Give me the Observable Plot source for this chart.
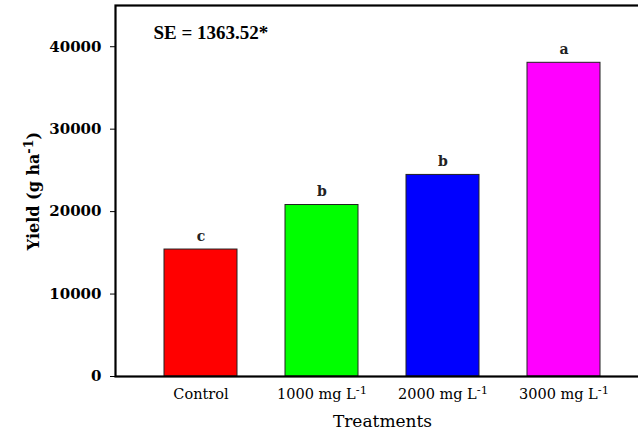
<!DOCTYPE html>
<html>
<head>
<meta charset="utf-8">
<script src="https://cdn.jsdelivr.net/npm/d3@7"></script>
<script src="https://cdn.jsdelivr.net/npm/@observablehq/plot@0.6"></script>
<style>
  html, body { margin: 0; padding: 0; background: #fff; overflow: hidden; }
  #chart svg { overflow: hidden; }
</style>
</head>
<body>
<div id="chart"></div>
<script>
const treatments = ["Control", "1000 mg L^-1^", "2000 mg L^-1^", "3000 mg L^-1^"];
const yieldValues = [15400, 20800, 24450, 38050];
const letters = ["c", "b", "b", "a"];
const barColors = ["#ff0000", "#00ff00", "#0000ff", "#ff00ff"];
const yTicks = [0, 10000, 20000, 30000, 40000];
const seText = "SE = 1363.52*";
const yLabel = "Yield (g ha^-1^)";
const xLabel = "Treatments";

const data = treatments.map((t, i) => ({t, v: yieldValues[i], letter: letters[i]}));
const serif = "'Liberation Serif', 'DejaVu Serif', serif";
const serif2 = "'DejaVu Serif', 'Liberation Serif', serif";

const chart = Plot.plot({
  width: 638,
  height: 432,
  marginLeft: 115,
  marginRight: -11,
  marginTop: 5,
  marginBottom: 56,
  style: {fontFamily: serif, background: "#fff", color: "#000"},
  x: {domain: treatments, padding: 0.4, label: null},
  y: {domain: [0, 45000], label: null},
  color: {domain: treatments, range: barColors},
  marks: [
    Plot.barY(data, {x: "t", y: "v", fill: "t", stroke: "#222", strokeWidth: 1}),
    Plot.text(data, {x: "t", y: "v", text: "letter", dy: -13, fontSize: 14, fontWeight: "bold", fill: "#222", fontFamily: serif2}),
    Plot.axisY({ticks: yTicks, tickSize: 5, tickPadding: 9, fontSize: 15, fontWeight: "bold", fontFamily: serif2, tickFormat: d => String(d), label: null}),
    Plot.axisX({tickSize: 0, tickPadding: 12, fontSize: 14.5, fontFamily: serif2, label: null}),
    Plot.frame({stroke: "#000", strokeWidth: 2.2}),
    Plot.text([seText], {frameAnchor: "top-left", dx: 38, dy: 20, fontSize: 19, fontWeight: "bold", textAnchor: "start"}),
    Plot.text([yLabel], {frameAnchor: "left", textAnchor: "middle", rotate: -90, dx: -82, fontSize: 16, fontWeight: "bold", fontFamily: serif2}),
    Plot.text([xLabel], {frameAnchor: "bottom", textAnchor: "middle", dx: 0, dy: 50, fontSize: 17, fontFamily: serif2})
  ]
});

// superscript post-processing
d3.select(chart).selectAll("text").each(function() {
  const el = this;
  if (el.querySelector("tspan")) {
    el.querySelectorAll("tspan").forEach(ts => process(ts));
  } else process(el);
});
function process(el) {
  const s = el.textContent;
  if (!s.includes("^")) return;
  const parts = s.split("^");
  el.textContent = "";
  parts.forEach((p, i) => {
    if (!p) return;
    const ts = document.createElementNS("http://www.w3.org/2000/svg", "tspan");
    ts.textContent = p;
    if (i % 2 === 1) {
      ts.setAttribute("dy", "-0.45em");
      ts.setAttribute("font-size", "0.8em");
    } else if (i > 0) {
      ts.setAttribute("dy", "0.36em");
    }
    el.appendChild(ts);
  });
}

document.getElementById("chart").appendChild(chart);
</script>
</body>
</html>
